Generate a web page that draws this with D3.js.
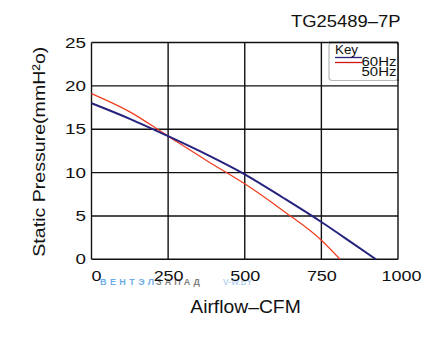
<!DOCTYPE html>
<html><head><meta charset="utf-8">
<script src="https://cdnjs.cloudflare.com/ajax/libs/d3/7.8.5/d3.min.js"></script>
<style>body{margin:0;background:#fff}svg{display:block}text{font-family:"Liberation Sans",Arial,sans-serif;fill:#111}</style>
</head><body><svg id="c" width="447" height="343"></svg>
<script>
const xTicks = [0, 250, 500, 750, 1000];
const yTicks = [0, 5, 10, 15, 20, 25];
const cfm60 = [0, 125, 250, 375, 500, 625, 750, 850, 928];
const sp60  = [18.0, 16.2, 14.2, 12.1, 9.8, 7.1, 4.3, 1.9, 0];
const cfm50 = [0, 125, 250, 375, 500, 625, 750, 811];
const sp50  = [19.1, 17.0, 14.2, 11.4, 8.7, 5.6, 2.2, 0];
const seriesNames = ["60Hz", "50Hz"];
const titleText = "TG25489\u20137P";

const svg = d3.select("#c");
const x = d3.scaleLinear().domain([0, 1000]).range([91.5, 398]);
const y = d3.scaleLinear().domain([0, 25]).range([259.3, 42.5]);

// grid
const g = svg.append("g");
g.selectAll("line.v").data(xTicks).join("line")
  .attr("x1", d => x(d)).attr("x2", d => x(d)).attr("y1", y(0)).attr("y2", y(25))
  .attr("stroke", "#111").attr("stroke-width", 1.4);
g.selectAll("line.h").data(yTicks).join("line")
  .attr("y1", d => y(d)).attr("y2", d => y(d)).attr("x1", x(0)).attr("x2", x(1000))
  .attr("stroke", "#111").attr("stroke-width", 1.4);

// tick labels
const ylab = svg.append("g");
ylab.selectAll("text").data(yTicks).join("text")
  .attr("x", 86).attr("y", d => y(d) + 5).attr("text-anchor", "end")
  .attr("font-size", 14).attr("textLength", d => String(d).length * 10.5)
  .attr("lengthAdjust", "spacingAndGlyphs").text(d => d);

// watermark
const wm = svg.append("g").attr("font-weight", "bold").attr("font-size", 9);
wm.append("text").attr("x", 100).attr("y", 284.5).attr("textLength", 54).attr("lengthAdjust", "spacing")
  .style("fill", "#6fade6").text("ВЕНТЭЛ");
wm.append("text").attr("x", 156).attr("y", 284.5).attr("textLength", 44).attr("lengthAdjust", "spacing")
  .style("fill", "#808080").text("ЗАПАД");
wm.append("text").attr("x", 223).attr("y", 284.5).attr("textLength", 29).attr("lengthAdjust", "spacingAndGlyphs")
  .attr("font-weight", "normal").style("fill", "#a0c4ea").text("V-W.BY");

const xlab = svg.append("g");
xlab.selectAll("text").data(xTicks).join("text")
  .attr("x", d => d === 0 ? x(d) + 5 : (d === 1000 ? x(d) + 3.5 : x(d) + 0.5))
  .attr("y", 281).attr("text-anchor", "middle")
  .attr("font-size", 14).attr("textLength", d => String(d).length * 10)
  .attr("lengthAdjust", "spacingAndGlyphs").text(d => d);

// curves
const line = d3.line().x(d => x(d[0])).y(d => y(d[1])).curve(d3.curveMonotoneX);
svg.append("path").datum(cfm50.map((c, i) => [c, sp50[i]]))
  .attr("d", line).attr("fill", "none").attr("stroke", "#f03a1c").attr("stroke-width", 1.2);
svg.append("path").datum(cfm60.map((c, i) => [c, sp60[i]]))
  .attr("d", line).attr("fill", "none").attr("stroke", "#25237e").attr("stroke-width", 2);

// legend
const lg = svg.append("g");
lg.append("rect").attr("x", 329).attr("y", 43).attr("width", 69).attr("height", 37.5).attr("rx", 3)
  .attr("fill", "#fff").attr("stroke", "#b8b8b8").attr("stroke-width", 1.2);
lg.append("line").attr("x1", 398).attr("x2", 398).attr("y1", 42.5).attr("y2", 81).attr("stroke", "#111").attr("stroke-width", 1.4);
lg.append("line").attr("x1", 329).attr("x2", 398).attr("y1", 42.5).attr("y2", 42.5).attr("stroke", "#111").attr("stroke-width", 1.4);
lg.append("text").attr("x", 335).attr("y", 54).attr("font-size", 12).attr("textLength", 23)
  .attr("lengthAdjust", "spacingAndGlyphs").text("Key");
lg.append("line").attr("x1", 335).attr("x2", 362).attr("y1", 57.5).attr("y2", 57.5).attr("stroke", "#25237e").attr("stroke-width", 1.3);
lg.append("line").attr("x1", 335).attr("x2", 362).attr("y1", 62.5).attr("y2", 62.5).attr("stroke", "#d01818").attr("stroke-width", 1.3);
lg.selectAll("text.s").data(seriesNames).join("text")
  .attr("x", 361.5).attr("y", (d, i) => 65.5 + i * 10).attr("font-size", 12)
  .attr("textLength", 35).attr("lengthAdjust", "spacingAndGlyphs").text(d => d);

// titles
svg.append("text").attr("x", 291).attr("y", 27).attr("font-size", 16)
  .attr("textLength", 109.5).attr("lengthAdjust", "spacingAndGlyphs").text(titleText);
svg.append("text").attr("x", 245.5).attr("y", 312.5).attr("text-anchor", "middle").attr("font-size", 18)
  .attr("textLength", 110.5).attr("lengthAdjust", "spacingAndGlyphs").text("Airflow\u2013CFM");
svg.append("text").attr("transform", "translate(45,151.7) rotate(-90)").attr("text-anchor", "middle")
  .attr("font-size", 17).attr("textLength", 210).attr("lengthAdjust", "spacingAndGlyphs")
  .text("Static Pressure(mmH\u00B2o)");
</script></body></html>
